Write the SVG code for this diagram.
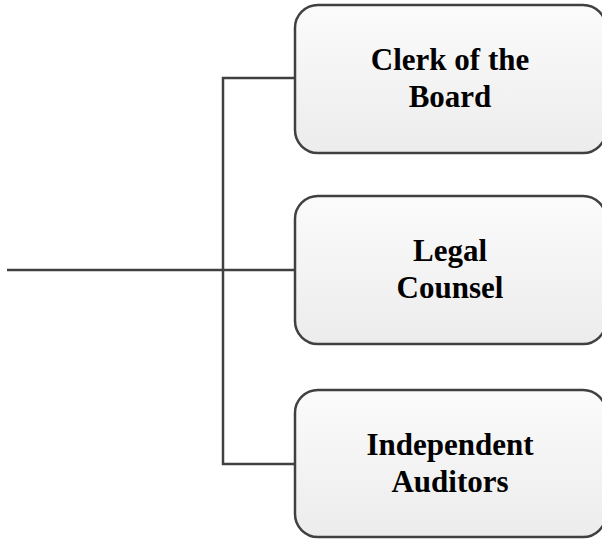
<svg xmlns="http://www.w3.org/2000/svg" width="602" height="539" viewBox="0 0 602 539">
  <defs>
    <linearGradient id="boxFill" x1="0" y1="0" x2="0" y2="1">
      <stop offset="0" stop-color="#fbfbfb"/>
      <stop offset="1" stop-color="#ececec"/>
    </linearGradient>
  </defs>
  <style>
    .box { fill: url(#boxFill); stroke: #404040; stroke-width: 2.5; }
    .conn { fill: none; stroke: #404040; stroke-width: 2.5; }
    .label { font-family: "Liberation Serif", "Times New Roman", serif; font-weight: bold; font-size: 31px; fill: #000; text-anchor: middle; }
  </style>
  <rect width="602" height="539" fill="#ffffff"/>
  <g id="connectors">
    <line class="conn" x1="7" y1="270" x2="295" y2="270"/>
    <polyline class="conn" points="295,78 223,78 223,464 295,464"/>
  </g>
  <g id="clerk">
    <rect class="box" x="295" y="5" width="311" height="148" rx="23" ry="23"/>
    <text class="label" x="450" y="70">Clerk of the</text>
    <text class="label" x="450" y="107">Board</text>
  </g>
  <g id="legal">
    <rect class="box" x="295" y="196" width="311" height="148" rx="23" ry="23"/>
    <text class="label" x="450" y="261">Legal</text>
    <text class="label" x="450" y="298">Counsel</text>
  </g>
  <g id="auditors">
    <rect class="box" x="295" y="390" width="311" height="147" rx="23" ry="23"/>
    <text class="label" x="450" y="455">Independent</text>
    <text class="label" x="450" y="492">Auditors</text>
  </g>
</svg>
